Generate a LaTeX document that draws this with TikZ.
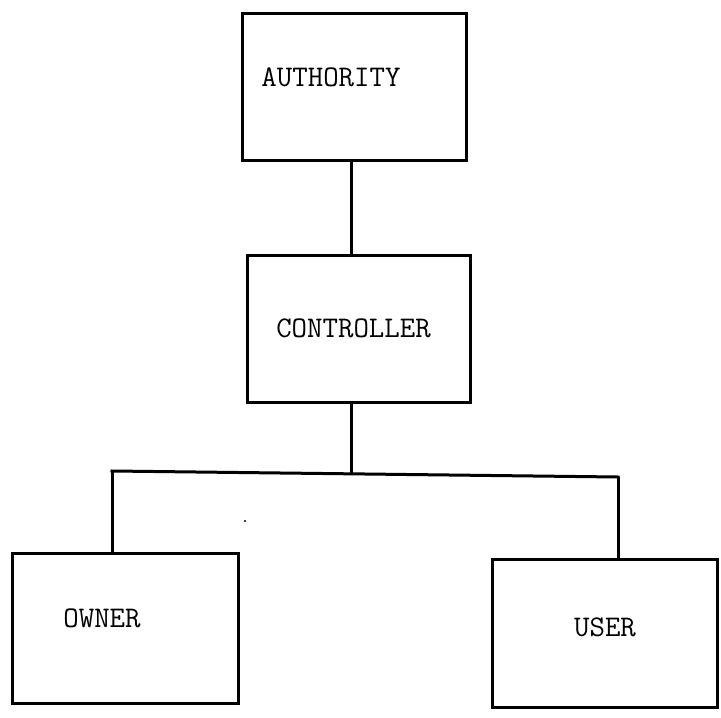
\documentclass[tikz,border=0pt]{standalone}
\begin{document}
\begin{tikzpicture}[x=1pt,y=-1pt,
  box/.style={draw=black,line width=3pt,rectangle,inner sep=0pt,fill=none},
  lbl/.style={inner sep=0pt,anchor=center,font=\ttfamily\fontsize{30}{30}\selectfont},
  wire/.style={draw=black,line width=3pt}]
  \useasboundingbox[fill=white] (0,0) rectangle (721,718);

  % boxes of the hierarchy
  \node[box,minimum width=224pt,minimum height=147pt] (auth)  at (354,86.5) {};
  \node[box,minimum width=223pt,minimum height=147pt] (ctrl)  at (358.5,328.5) {};
  \node[box,minimum width=226pt,minimum height=150pt] (owner) at (125,628) {};
  \node[box,minimum width=225pt,minimum height=148pt] (user)  at (604.5,633) {};

  % labels
  \node[lbl] (tauth)  at (331,77)    {AUTHORITY};
  \node[lbl] (tctrl)  at (353.5,328) {CONTROLLER};
  \node[lbl] (towner) at (102,618)   {OWNER};
  \node[lbl] (tuser)  at (605,627)   {USER};

  % junction points of the branching bar
  \coordinate (jc) at (351,473);
  \coordinate (jl) at (112,471);
  \coordinate (jr) at (618,477);

  % connectors
  \draw[wire] (auth.south -| jc) -- (ctrl.north -| jc);
  \draw[wire] (ctrl.south -| jc) -- (jc);
  \draw[wire,line cap=rect] (jl) -- (jr);
  \draw[wire] (jl) -- (owner.north -| jl);
  \draw[wire] (jr) -- (user.north -| jr);

  % small ink speck
  \fill[black] (245,521) circle (1.2pt);
\end{tikzpicture}
\end{document}
